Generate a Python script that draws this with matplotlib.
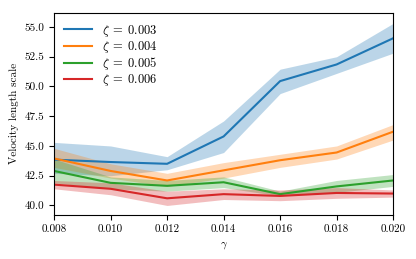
import numpy as np
import matplotlib
matplotlib.use("Agg")
import matplotlib.pyplot as plt

plt.rcParams['font.family'] = 'serif'
plt.rcParams['font.serif'] = ['cmr10']
plt.rcParams['mathtext.fontset'] = 'cm'
plt.rcParams['axes.formatter.use_mathtext'] = True
plt.rcParams['font.size'] = 8

gamma = [0.008, 0.010, 0.012, 0.014, 0.016, 0.018, 0.020]
labels = [r'$\zeta\;=\;0.003$', r'$\zeta\;=\;0.004$', r'$\zeta\;=\;0.005$', r'$\zeta\;=\;0.006$']

mean_003 = [43.85, 43.65, 43.5, 45.8, 50.45, 51.85, 54.05]
low_003 = [42.7, 42.5, 43.0, 44.45, 49.4, 51.1, 52.8]
high_003 = [45.3, 45.0, 44.1, 47.1, 51.45, 52.5, 55.3]

mean_004 = [43.95, 42.9, 42.1, 42.95, 43.8, 44.45, 46.2]
low_004 = [43.2, 42.3, 41.6, 42.3, 43.2, 43.9, 45.5]
high_004 = [44.8, 43.5, 42.7, 43.6, 44.3, 45.0, 46.8]

mean_005 = [42.9, 41.9, 41.65, 41.95, 40.95, 41.6, 42.1]
low_005 = [41.9, 41.4, 41.2, 41.5, 40.8, 41.1, 41.6]
high_005 = [43.9, 42.4, 42.1, 42.4, 41.2, 42.1, 42.6]

mean_006 = [41.75, 41.4, 40.6, 40.95, 40.8, 41.05, 41.0]
low_006 = [41.4, 40.9, 40.0, 40.5, 40.4, 40.6, 40.7]
high_006 = [42.1, 41.9, 41.2, 41.4, 41.3, 41.5, 41.3]

means = [mean_003, mean_004, mean_005, mean_006]
lows = [low_003, low_004, low_005, low_006]
highs = [high_003, high_004, high_005, high_006]
colors = ['#1f77b4', '#ff7f0e', '#2ca02c', '#d62728']

fig = plt.figure(figsize=(4.16, 2.59), dpi=100)
ax = fig.add_axes([0.13, 0.17, 0.815, 0.781])

for m, lo, hi, c, lab in zip(means, lows, highs, colors, labels):
    ax.fill_between(gamma, lo, hi, color=c, alpha=0.3, linewidth=0)
    ax.plot(gamma, m, color=c, linewidth=1.5, label=lab)

ax.set_xlim(0.008, 0.020)
ax.set_ylim(39.2, 56.2)
ax.set_xticks([0.008, 0.010, 0.012, 0.014, 0.016, 0.018, 0.020])
ax.set_xticklabels(['0.008', '0.010', '0.012', '0.014', '0.016', '0.018', '0.020'])
ax.set_yticks([40.0, 42.5, 45.0, 47.5, 50.0, 52.5, 55.0])
ax.set_yticklabels(['40.0', '42.5', '45.0', '47.5', '50.0', '52.5', '55.0'])
ax.set_xlabel(r'$\gamma$')
ax.set_ylabel('Velocity length scale')
ax.legend(loc='upper left', frameon=False, fontsize=9, labelspacing=0.02,
          handlelength=2.2, borderaxespad=0.4)

fig.savefig('out.png', dpi=100)
